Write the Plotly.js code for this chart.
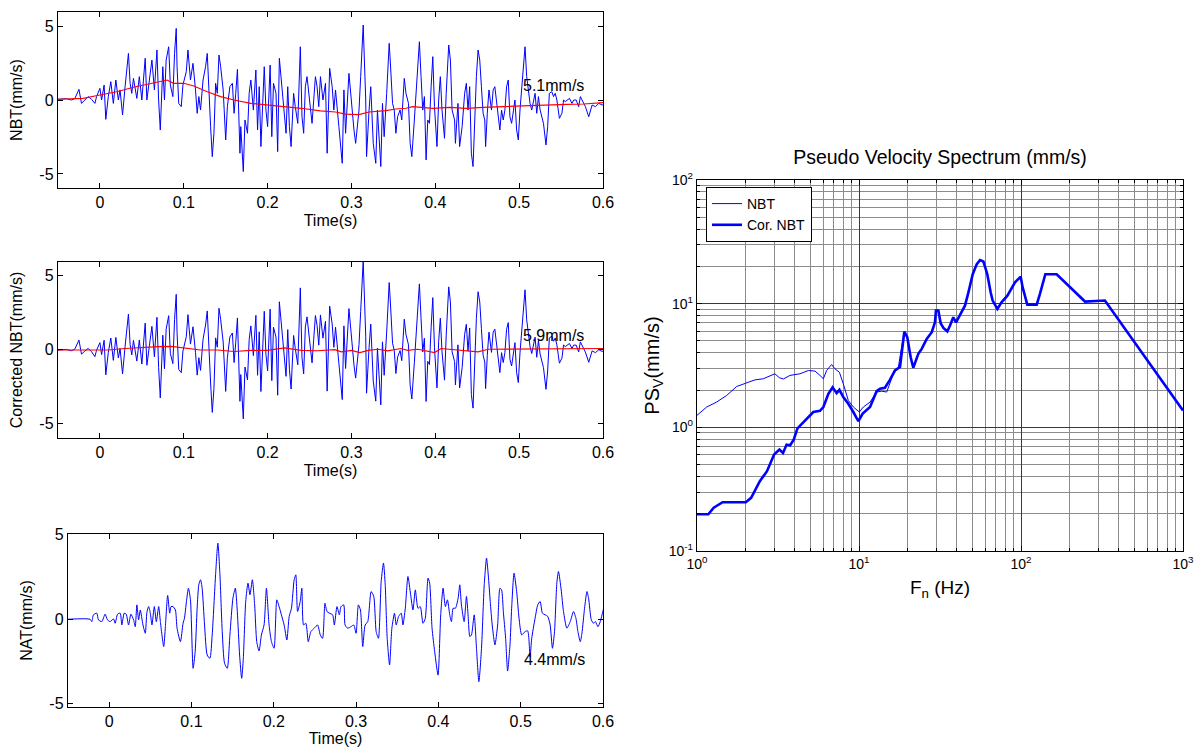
<!DOCTYPE html>
<html>
<head>
<meta charset="utf-8">
<script src="https://cdn.plot.ly/plotly-3.0.1.min.js"></script>
<style>
  html, body { margin: 0; padding: 0; background: #fff; }
  #fig { width: 1197px; height: 747px; }
</style>
</head>
<body>
<div id="fig"></div>
<script>
// ---- velocity records (time in s, velocity in mm/s) ----
const nbtTime = [-0.050,-0.040,-0.034,-0.030,-0.025,-0.022,-0.018,-0.014,-0.010,-0.006,
  -0.004,0.000,0.002,0.005,0.007,0.010,0.013,0.016,0.019,0.022,
  0.024,0.027,0.030,0.034,0.036,0.038,0.040,0.044,0.047,0.050,
  0.054,0.056,0.059,0.062,0.065,0.068,0.070,0.072,0.075,0.077,
  0.079,0.082,0.084,0.087,0.089,0.091,0.092,0.094,0.097,0.099,
  0.103,0.105,0.108,0.111,0.114,0.116,0.118,0.120,0.123,0.126,
  0.128,0.130,0.132,0.134,0.136,0.138,0.140,0.142,0.144,0.147,
  0.150,0.152,0.155,0.158,0.160,0.162,0.164,0.167,0.168,0.171,
  0.173,0.176,0.178,0.180,0.183,0.186,0.188,0.190,0.192,0.196,
  0.198,0.200,0.203,0.205,0.207,0.210,0.212,0.214,0.216,0.219,
  0.222,0.224,0.226,0.228,0.231,0.233,0.236,0.239,0.241,0.243,
  0.245,0.247,0.249,0.251,0.253,0.255,0.257,0.259,0.261,0.263,
  0.266,0.269,0.271,0.274,0.277,0.279,0.281,0.285,0.289,0.291,
  0.293,0.297,0.299,0.301,0.303,0.305,0.309,0.311,0.314,0.317,
  0.318,0.321,0.323,0.326,0.329,0.331,0.335,0.337,0.339,0.342,
  0.345,0.346,0.349,0.351,0.353,0.355,0.358,0.360,0.363,0.365,
  0.368,0.370,0.372,0.375,0.377,0.379,0.381,0.383,0.385,0.387,
  0.389,0.391,0.393,0.395,0.397,0.399,0.402,0.404,0.406,0.408,
  0.411,0.413,0.416,0.418,0.420,0.423,0.424,0.427,0.429,0.432,
  0.435,0.437,0.439,0.441,0.443,0.445,0.447,0.449,0.451,0.453,
  0.455,0.457,0.459,0.460,0.462,0.464,0.467,0.469,0.471,0.473,
  0.475,0.477,0.479,0.481,0.483,0.485,0.487,0.489,0.491,0.493,
  0.495,0.497,0.499,0.501,0.503,0.505,0.507,0.509,0.511,0.513,
  0.515,0.517,0.519,0.521,0.523,0.525,0.529,0.532,0.534,0.536,
  0.539,0.541,0.543,0.545,0.548,0.551,0.553,0.555,0.557,0.560,
  0.563,0.565,0.568,0.571,0.573,0.575,0.579,0.583,0.585,0.587,
  0.591,0.595,0.599,0.603];

const nbtVel = [0.05,0.09,0,0.09,0.72,-0.23,0,0.23,0.05,-0.23,
  0.23,0.79,0,1.01,-1.31,0.23,1.24,-0.23,1.35,0,
  0.68,-1.01,0.9,3.15,1.13,0.45,1.46,0.11,1.58,0,
  2.82,0,1.35,2.70,0.68,3.38,0,-2.03,2.25,0,
  2.70,3.60,1.01,0.23,3.15,4.84,2.25,-0.23,-0.45,1.01,
  1.91,3.38,1.35,2.48,0.68,-0.90,0.23,-0.68,1.35,2.25,
  3.15,0.23,-1.80,-3.83,-2.25,1.13,0.45,3.04,2.25,0.68,
  -2.70,-0.45,0.90,1.13,-0.90,0.45,2.07,-3.60,-1.80,-4.84,
  -1.35,-2.25,0.45,1.35,-0.68,2.03,-2.03,0.90,-3.15,2.25,
  -0.68,-1.80,2.36,-2.48,1.13,0.45,-3.49,2.82,1.46,-0.68,
  -2.25,0.90,-1.80,-3.15,0.45,-0.45,-1.58,3.60,-1.13,-2.25,
  0.90,1.58,0.45,-0.68,-1.58,0,1.58,0.90,-0.45,1.58,
  0,1.13,-3.60,2.14,0.90,-0.68,0.68,-1.80,-4.28,0.68,
  -2.25,1.80,0.45,-0.45,-2.03,-2.93,-0.68,1.58,5.07,0,
  -3.83,-0.68,0.90,-2.93,-4.28,-0.68,-4.50,-0.23,-2.48,0.45,
  3.83,2.93,-0.23,-0.68,-2.25,-1.13,-0.68,-1.35,1.46,0.45,
  -0.23,-2.93,-3.83,-1.35,0.45,2.25,3.94,1.58,-0.68,0.23,
  -4.05,-1.35,-1.58,0.90,2.93,-0.45,-3.15,0,1.58,-0.68,
  -2.59,0.45,3.72,2.70,-0.68,-1.35,-2.93,-0.23,-3.15,-1.80,
  0.45,1.13,-0.68,0.90,-3.60,-4.50,-0.68,1.58,3.38,2.70,
  0.90,-0.90,-1.35,-3.15,-0.90,0.68,-0.68,0.68,0.90,0,
  -1.13,-2.03,-0.68,-1.35,-0.68,0.90,1.35,-1.13,-1.58,-0.68,
  0,-2.03,-2.70,-0.68,0.90,2.03,3.60,1.58,0.45,-0.23,
  -0.68,0,0.45,-0.90,0.23,-0.68,-1.58,-3.04,-1.80,0.45,
  0.56,0.23,0.45,0,-1.24,-0.90,0,-0.11,0,0.11,
  -0.23,0,0,-0.45,0.23,0,-0.45,-1.13,-0.68,-0.34,
  -0.45,-0.23,-0.34,-0.23];

// baseline drift of the raw record
const nbtTrendTime = [-0.05,-0.02,0,0.02,0.04,0.06,0.08,0.088,0.10,0.112,
  0.128,0.144,0.16,0.18,0.20,0.22,0.24,0.263,0.281,0.293,
  0.309,0.321,0.341,0.353,0.365,0.373,0.383,0.397,0.417,0.437,
  0.457,0.477,0.497,0.517,0.537,0.557,0.577,0.6];
const nbtTrendVel = [0.05,0.11,0.34,0.56,0.86,1.13,1.35,1.13,1.13,0.95,
  0.56,0.23,0,-0.23,-0.34,-0.41,-0.56,-0.74,-0.81,-0.95,
  -0.99,-0.81,-0.72,-0.61,-0.56,-0.45,-0.50,-0.56,-0.50,-0.56,
  -0.50,-0.45,-0.45,-0.38,-0.32,-0.29,-0.27,-0.18];

// baseline-corrected record (same sample times as nbtTime)
const corVel = [-0.05,-0.01,-0.1,0,0.62,-0.33,-0.12,0.06,-0.17,-0.5,
  -0.06,0.45,-0.36,0.61,-1.73,-0.22,0.76,-0.75,0.8,-0.59,
  0.06,-1.67,0.19,2.38,0.33,-0.38,0.6,-0.8,0.63,-1.0,
  1.77,-1.08,0.23,1.55,-0.51,2.16,-1.24,-3.29,0.95,-1.32,
  1.36,2.27,-0.29,-0.97,2.0,3.71,1.12,-1.36,-1.58,-0.12,
  0.84,2.34,0.35,1.52,-0.22,-1.75,-0.57,-1.43,0.67,1.64,
  2.59,-0.29,-2.28,-4.27,-2.65,0.77,0.14,2.77,2.02,0.49,
  -2.85,-0.57,0.83,1.1,-0.9,0.47,2.12,-3.52,-1.71,-4.71,
  -1.2,-2.07,0.65,1.58,-0.43,2.29,-1.76,1.18,-2.86,2.57,
  -0.35,-1.46,2.71,-2.12,1.49,0.82,-3.11,3.21,1.85,-0.28,
  -1.83,1.33,-1.35,-2.69,0.93,0.05,-1.05,4.15,-0.57,-1.67,
  1.5,2.19,1.08,-0.03,-0.92,0.68,2.28,1.61,0.28,2.32,
  0.75,1.89,-2.83,2.92,1.7,0.13,1.49,-0.95,-3.4,1.58,
  -1.3,2.75,1.4,0.51,-1.06,-1.95,0.31,2.55,6.0,0.88,
  -2.97,0.13,1.7,-2.15,-3.51,0.08,-3.76,0.5,-1.76,1.16,
  4.51,3.6,0.41,-0.06,-1.64,-0.53,-0.09,-0.77,2.03,1.01,
  0.3,-2.43,-3.36,-0.9,0.91,2.72,4.42,2.08,-0.18,0.74,
  -3.53,-0.82,-1.04,1.45,3.49,0.1,-2.61,0.53,2.1,-0.17,
  -2.09,0.95,4.22,3.2,-0.17,-0.83,-2.41,0.3,-2.61,-1.25,
  1.01,1.69,-0.13,1.44,-3.07,-3.98,-0.16,2.09,3.89,3.2,
  1.4,-0.4,-0.86,-2.66,-0.42,1.16,-0.21,1.15,1.36,0.46,
  -0.68,-1.58,-0.23,-0.9,-0.23,1.35,1.8,-0.68,-1.13,-0.23,
  0.45,-1.58,-2.25,-0.24,1.33,2.46,4.02,1.99,0.85,0.17,
  -0.29,0.38,0.82,-0.54,0.59,-0.33,-1.24,-2.71,-1.47,0.77,
  0.88,0.54,0.76,0.3,-0.94,-0.61,0.29,0.18,0.29,0.39,
  0.05,0.28,0.28,-0.18,0.5,0.27,-0.19,-0.88,-0.44,-0.11,
  -0.23,-0.03,-0.15,-0.05];

// residual drift of the corrected record
const corTrendTime = [-0.05,-0.02,0.01,0.03,0.04,0.055,0.07,0.085,0.1,0.12,
  0.14,0.16,0.18,0.2,0.22,0.24,0.26,0.28,0.288,0.3,
  0.31,0.32,0.332,0.343,0.359,0.367,0.379,0.399,0.407,0.419,
  0.439,0.451,0.463,0.479,0.499,0.519,0.539,0.559,0.579,0.6];
const corTrendVel = [-0.05,-0.07,-0.05,0.05,0.09,0.15,0.18,0.2,0.1,-0.05,
  -0.05,-0.15,-0.07,-0.07,0.09,-0.07,-0.1,-0.02,-0.18,-0.07,
  -0.22,-0.07,0,-0.11,0.05,-0.07,0,-0.22,0.05,-0.02,
  -0.13,-0.18,0,0,0.05,0,0.05,0.05,0,0.05];

const natTime = [-0.0496,-0.0232,-0.0211,-0.0191,-0.0150,-0.0130,-0.0089,-0.0049,-0.0020,0.0012,
  0.0053,0.0073,0.0102,0.0134,0.0154,0.0183,0.0207,0.0236,0.0264,0.0297,
  0.0317,0.0337,0.0358,0.0378,0.0411,0.0439,0.0459,0.0480,0.0500,0.0520,
  0.0549,0.0573,0.0602,0.0622,0.0663,0.0683,0.0711,0.0736,0.0752,0.0776,
  0.0805,0.0825,0.0866,0.0898,0.0915,0.0939,0.0963,0.0988,0.1020,0.1045,
  0.1069,0.1089,0.1110,0.1130,0.1159,0.1191,0.1224,0.1252,0.1293,0.1321,
  0.1346,0.1374,0.1402,0.1435,0.1467,0.1504,0.1533,0.1557,0.1585,0.1610,
  0.1630,0.1659,0.1687,0.1711,0.1740,0.1768,0.1793,0.1821,0.1850,0.1882,
  0.1911,0.1943,0.1972,0.2004,0.2037,0.2065,0.2093,0.2126,0.2159,0.2187,
  0.2215,0.2248,0.2268,0.2289,0.2321,0.2341,0.2362,0.2390,0.2419,0.2451,
  0.2492,0.2533,0.2565,0.2593,0.2622,0.2646,0.2675,0.2715,0.2736,0.2768,
  0.2797,0.2817,0.2850,0.2866,0.2898,0.2939,0.2972,0.3000,0.3028,0.3053,
  0.3081,0.3110,0.3142,0.3183,0.3215,0.3244,0.3272,0.3305,0.3333,0.3354,
  0.3378,0.3407,0.3435,0.3467,0.3488,0.3516,0.3549,0.3569,0.3598,0.3630,
  0.3663,0.3691,0.3720,0.3752,0.3780,0.3813,0.3841,0.3874,0.3894,0.3923,
  0.3955,0.3996,0.4028,0.4057,0.4085,0.4110,0.4138,0.4159,0.4179,0.4207,
  0.4240,0.4260,0.4280,0.4313,0.4341,0.4362,0.4382,0.4402,0.4435,0.4463,
  0.4492,0.4524,0.4557,0.4585,0.4606,0.4630,0.4654,0.4687,0.4720,0.4748,
  0.4768,0.4789,0.4817,0.4841,0.4870,0.4890,0.4919,0.4951,0.4980,0.5012,
  0.5053,0.5085,0.5114,0.5134,0.5175,0.5207,0.5236,0.5264,0.5297,0.5329,
  0.5358,0.5386,0.5411,0.5439,0.5459,0.5492,0.5520,0.5561,0.5602,0.5642,
  0.5671,0.5695,0.5724,0.5744,0.5776,0.5805,0.5825,0.5858,0.5886,0.5907,
  0.5939,0.5967,0.5988,0.6008];
const natVel = [0,0,-0.14,0.26,0.36,-0.04,-0.14,0.30,-0.04,-0.14,
  0.02,-0.24,0.30,0.36,-0.34,0.36,0.30,-0.34,0.30,-0.04,
  -0.44,0.85,-0.04,0.55,-0.34,-0.83,0.42,0.75,0.36,-0.34,
  0.75,-0.14,0.75,-0.14,-1.62,-0.44,1.41,0.36,0.75,0.75,
  0.55,-0.53,-1.33,-0.24,0.06,1.05,1.84,1.15,-2.91,-1.92,
  0.65,2.04,2.34,1.84,-0.34,-2.12,-2.32,-0.93,2.63,4.51,
  2.63,-0.73,-2.61,-2.91,-0.93,1.25,1.84,0.46,-2.12,-3.50,
  -2.32,1.05,2.14,1.45,2.34,0.85,-1.33,-1.88,-0.93,-0.34,
  1.84,-0.34,-1.33,-1.72,1.15,0.75,0.26,-0.34,-1.23,0.16,
  0.65,2.34,2.63,0.46,1.05,1.84,-0.34,-0.24,-1.33,-0.73,
  -0.53,-0.34,-0.93,-1.13,0.95,0.46,0.36,0.26,-0.34,0.75,
  0.26,0.75,0.85,-0.34,-0.53,-0.44,-0.34,-0.83,0.85,0.55,
  -1.62,-0.34,-0.14,1.64,1.35,-0.73,-1.13,2.24,3.33,2.04,
  -1.13,-2.71,-0.53,0.36,-0.34,0.16,0.36,-0.34,0.65,2.53,
  1.45,0.55,1.74,0.65,0.75,-0.24,0.06,2.44,2.14,-0.53,
  -1.92,-3.31,0.26,1.84,0.75,1.15,0.26,-0.14,0.65,0.65,
  1.25,2.04,0.85,-0.14,1.35,0.16,-1.03,-0.93,0.26,-1.72,
  -3.70,-1.72,2.04,3.62,2.63,1.05,-0.34,-1.52,-0.34,1.84,
  1.74,0.46,-1.13,-3.07,-1.52,0.65,2.73,1.64,0.06,-0.93,
  -0.73,-0.69,-2.22,-1.13,0.06,0.85,1.05,0.36,0.26,0.16,
  -0.34,-1.72,-0.73,2.14,2.83,1.74,0.46,-0.53,-0.14,0.46,
  0.06,-0.73,-1.33,-0.83,0.65,1.64,1.25,-0.04,-0.24,-0.14,
  -0.44,-0.14,0.26,0.65];

// peak particle velocities written on each record
const peakLabels = ['5.1mm/s', '5.9mm/s', '4.4mm/s'];
const peakLabelTime = [0.502, 0.502, 0.501];
const peakLabelVel = [1.0, 0.95, -2.4];

// ---- pseudo velocity spectra (frequency in Hz, PSv in mm/s) ----
const nbtFreq = [1.00,1.148,1.321,1.524,1.758,2.028,2.280,2.564,2.754,3.027,
  3.221,3.412,3.750,4.325,4.864,5.346,5.741,6.026,6.310,6.776,
  7.112,7.568,7.998,8.590,9.226,10.05,10.64,11.70,12.85,13.80,
  14.83,16.29,17.50,18.97,19.86,20.84,21.63,23.23,24.38,26.18,
  28.12,29.44,29.85,30.90,31.92,33.19,35.08,36.48,38.19,39.72,
  41.98,45.08,47.32,50.35,53.33,55.85,58.61,61.94,65.01,66.83,
  71.45,76.03,82.41,91.83,99.54,102.3,109.4,125.0,130.9,141.3,
  166.0,248.3,329.6,1000];
const nbtPsv = [1.25,1.46,1.60,1.81,2.14,2.28,2.42,2.47,2.58,2.71,
  2.52,2.46,2.63,2.71,2.88,2.85,2.63,2.47,2.88,3.22,
  2.97,2.79,2.25,1.65,1.46,1.33,1.46,1.60,1.93,1.96,
  1.93,2.71,3.07,5.88,5.35,3.69,3.03,3.93,4.31,5.19,
  5.88,7.06,8.79,8.79,6.94,6.37,5.98,6.65,7.76,7.06,
  8.00,9.63,12.3,17.3,20.9,22.5,21.9,17.3,12.3,10.6,
  9.06,10.3,11.6,14.9,16.5,13.6,9.82,9.82,12.0,17.3,
  17.3,10.4,10.6,1.37];

const corFreq = [1.00,1.175,1.268,1.439,2.000,2.158,2.443,2.704,2.992,3.228,
  3.396,3.573,3.758,3.954,4.17,4.753,5.224,5.741,6.026,6.471,
  6.871,7.278,7.568,7.998,8.590,9.226,9.908,10.54,11.70,12.85,
  13.49,14.45,15.52,16.67,17.91,19.05,19.86,20.84,21.63,23.23,
  24.38,26.18,28.12,29.44,29.85,30.90,31.92,33.19,35.08,36.48,
  38.19,39.72,41.98,45.08,47.32,50.35,53.33,55.85,58.61,61.94,
  65.01,66.83,71.45,76.03,82.41,91.83,99.54,102.3,109.4,125.0,
  130.9,141.3,166.0,248.3,329.6,1000];
const corPsv = [0.198,0.198,0.224,0.248,0.248,0.269,0.367,0.442,0.603,0.661,
  0.621,0.725,0.716,0.796,0.98,1.17,1.33,1.36,1.46,1.87,
  2.11,1.89,2.01,1.76,1.55,1.33,1.12,1.29,1.46,1.96,
  2.05,2.09,2.42,2.88,3.07,5.95,5.35,3.69,3.03,3.93,
  4.31,5.19,5.88,7.06,8.79,8.79,6.94,6.37,5.98,6.65,
  7.76,7.06,8.00,9.63,12.3,17.3,20.9,22.5,21.9,17.3,
  12.3,10.6,9.06,10.3,11.6,14.9,16.5,13.6,9.82,9.82,
  12.0,17.3,17.3,10.4,10.6,1.37];

// ---- axis ticks ----
const timeTicks = [0, 0.1, 0.2, 0.3, 0.4, 0.5, 0.6];
const timeTickText = ['0', '0.1', '0.2', '0.3', '0.4', '0.5', '0.6'];
const velTicks = [-5, 0, 5];
const velTickText = ['-5', '0', '5'];
const freqTicks = [1, 10, 100, 1000];
const freqTickText = ['10<sup>0</sup>', '10<sup>1</sup>', '10<sup>2</sup>', '10<sup>3</sup>'];
const psvTicks = [0.1, 1, 10, 100];
const psvTickText = ['10<sup>-1</sup>', '10<sup>0</sup>', '10<sup>1</sup>', '10<sup>2</sup>'];

// minor grid positions 2..9 within each decade
function decadeSteps(lo, hi) {
  const out = [];
  for (let d = lo; d < hi; d++) {
    for (let k = 2; k <= 9; k++) out.push(k * Math.pow(10, d));
  }
  return out;
}

const FONT = 'Liberation Sans, Arial, Helvetica, sans-serif';
const W = 1197, H = 747;
const px = v => v / W;
const py = v => 1 - v / H;

const BLUE = '#0000ff';
const RED = '#ff0000';

function timeAxis(domX, title) {
  return {
    domain: domX,
    range: [-0.05, 0.6],
    tickmode: 'array', tickvals: timeTicks, ticktext: timeTickText,
    ticks: 'inside', ticklen: 5, tickcolor: '#000', tickwidth: 1,
    mirror: 'allticks', showline: true, linecolor: '#000', linewidth: 1.2,
    showgrid: false, zeroline: false,
    tickfont: { family: FONT, size: 16, color: '#000' },
    title: { text: title, font: { family: FONT, size: 16, color: '#000' }, standoff: 4 }
  };
}
function velAxis(domY, range, title, standoff) {
  return {
    domain: domY,
    range: range,
    tickmode: 'array', tickvals: velTicks, ticktext: velTickText,
    ticks: 'inside', ticklen: 5, tickcolor: '#000', tickwidth: 1,
    mirror: 'allticks', showline: true, linecolor: '#000', linewidth: 1.2,
    showgrid: false, zeroline: false,
    tickfont: { family: FONT, size: 16, color: '#000' },
    title: { text: title, font: { family: FONT, size: 16, color: '#000' }, standoff: standoff }
  };
}

const traces = [
  { x: nbtTime, y: nbtVel, xaxis: 'x', yaxis: 'y', mode: 'lines',
    line: { color: BLUE, width: 1 }, showlegend: false, hoverinfo: 'skip' },
  { x: nbtTrendTime, y: nbtTrendVel, xaxis: 'x', yaxis: 'y', mode: 'lines',
    line: { color: RED, width: 1.2 }, showlegend: false, hoverinfo: 'skip' },
  { x: nbtTime, y: corVel, xaxis: 'x2', yaxis: 'y2', mode: 'lines',
    line: { color: BLUE, width: 1 }, showlegend: false, hoverinfo: 'skip' },
  { x: corTrendTime, y: corTrendVel, xaxis: 'x2', yaxis: 'y2', mode: 'lines',
    line: { color: RED, width: 1.2 }, showlegend: false, hoverinfo: 'skip' },
  { x: natTime, y: natVel, xaxis: 'x3', yaxis: 'y3', mode: 'lines',
    line: { color: BLUE, width: 1, shape: 'spline', smoothing: 0.6 }, showlegend: false, hoverinfo: 'skip' },
  { x: nbtFreq, y: nbtPsv, xaxis: 'x4', yaxis: 'y4', mode: 'lines', name: 'NBT',
    line: { color: BLUE, width: 1 } },
  { x: corFreq, y: corPsv, xaxis: 'x4', yaxis: 'y4', mode: 'lines', name: 'Cor. NBT',
    line: { color: BLUE, width: 2.6 } }
];

const leftX = [px(58), px(603)];
const layout = {
  width: W, height: H,
  margin: { l: 0, r: 0, t: 0, b: 0 },
  paper_bgcolor: '#fff', plot_bgcolor: '#fff',
  font: { family: FONT, color: '#000' },
  title: {
    text: 'Pseudo Velocity Spectrum (mm/s)',
    font: { family: FONT, size: 19.5, color: '#000' },
    x: px(940), xanchor: 'center', xref: 'paper',
    y: py(157), yanchor: 'middle'
  },
  xaxis: Object.assign(timeAxis(leftX, 'Time(s)'), { anchor: 'y' }),
  yaxis: Object.assign(velAxis([py(188), py(12)], [-5.95, 5.95], 'NBT(mm/s)', 12), { anchor: 'x' }),
  xaxis2: Object.assign(timeAxis(leftX, 'Time(s)'), { anchor: 'y2' }),
  yaxis2: Object.assign(velAxis([py(438), py(262)], [-6, 5.9], 'Corrected NBT(mm/s)', 12), { anchor: 'x2' }),
  xaxis3: Object.assign(timeAxis([px(68), px(603)], 'Time(s)'), { anchor: 'y3' }),
  yaxis3: Object.assign(velAxis([py(707), py(534)], [-5.2, 5.05], 'NAT(mm/s)', 12), { anchor: 'x3' }),
  xaxis4: {
    anchor: 'y4', domain: [px(697), px(1183)],
    type: 'log', range: [0, 3],
    tickmode: 'array', tickvals: freqTicks, ticktext: freqTickText,
    ticks: 'inside', ticklen: 5, tickcolor: '#000',
    mirror: 'allticks', showline: true, linecolor: '#000', linewidth: 1.2,
    showgrid: true, gridcolor: '#3a3a3a', gridwidth: 1, zeroline: false,
    minor: { tickmode: 'array', tickvals: decadeSteps(0, 3), ticks: 'inside', ticklen: 3,
             tickcolor: '#000', showgrid: true, gridcolor: '#8c8c8c', gridwidth: 1 },
    tickfont: { family: FONT, size: 14, color: '#000' },
    title: { text: 'F<sub>n</sub> (Hz)', font: { family: FONT, size: 19, color: '#000' }, standoff: 9 }
  },
  yaxis4: {
    anchor: 'x4', domain: [py(551), py(180)],
    type: 'log', range: [-1, 2],
    tickmode: 'array', tickvals: psvTicks, ticktext: psvTickText,
    ticks: 'inside', ticklen: 5, tickcolor: '#000',
    mirror: 'allticks', showline: true, linecolor: '#000', linewidth: 1.2,
    showgrid: true, gridcolor: '#3a3a3a', gridwidth: 1, zeroline: false,
    minor: { tickmode: 'array', tickvals: decadeSteps(-1, 2), ticks: 'inside', ticklen: 3,
             tickcolor: '#000', showgrid: true, gridcolor: '#8c8c8c', gridwidth: 1 },
    tickfont: { family: FONT, size: 14, color: '#000' },
    title: { text: 'PS<sub>V</sub>(mm/s)', font: { family: FONT, size: 20, color: '#000' }, standoff: 3 }
  },
  showlegend: true,
  legend: {
    x: px(706), y: py(187), xanchor: 'left', yanchor: 'top',
    xref: 'paper', yref: 'paper',
    bgcolor: '#fff', bordercolor: '#000', borderwidth: 1,
    font: { family: FONT, size: 14, color: '#000' },
    itemwidth: 30, tracegroupgap: 0
  },
  annotations: [
    { xref: 'x', yref: 'y', x: peakLabelTime[0], y: peakLabelVel[0], text: peakLabels[0],
      showarrow: false, xanchor: 'left', yanchor: 'middle', font: { family: FONT, size: 16, color: '#000' } },
    { xref: 'x2', yref: 'y2', x: peakLabelTime[1], y: peakLabelVel[1], text: peakLabels[1],
      showarrow: false, xanchor: 'left', yanchor: 'middle', font: { family: FONT, size: 16, color: '#000' } },
    { xref: 'x3', yref: 'y3', x: peakLabelTime[2], y: peakLabelVel[2], text: peakLabels[2],
      showarrow: false, xanchor: 'left', yanchor: 'middle', font: { family: FONT, size: 16, color: '#000' } }
  ]
};

Plotly.newPlot('fig', traces, layout, { staticPlot: true, displayModeBar: false });
</script>
</body>
</html>
